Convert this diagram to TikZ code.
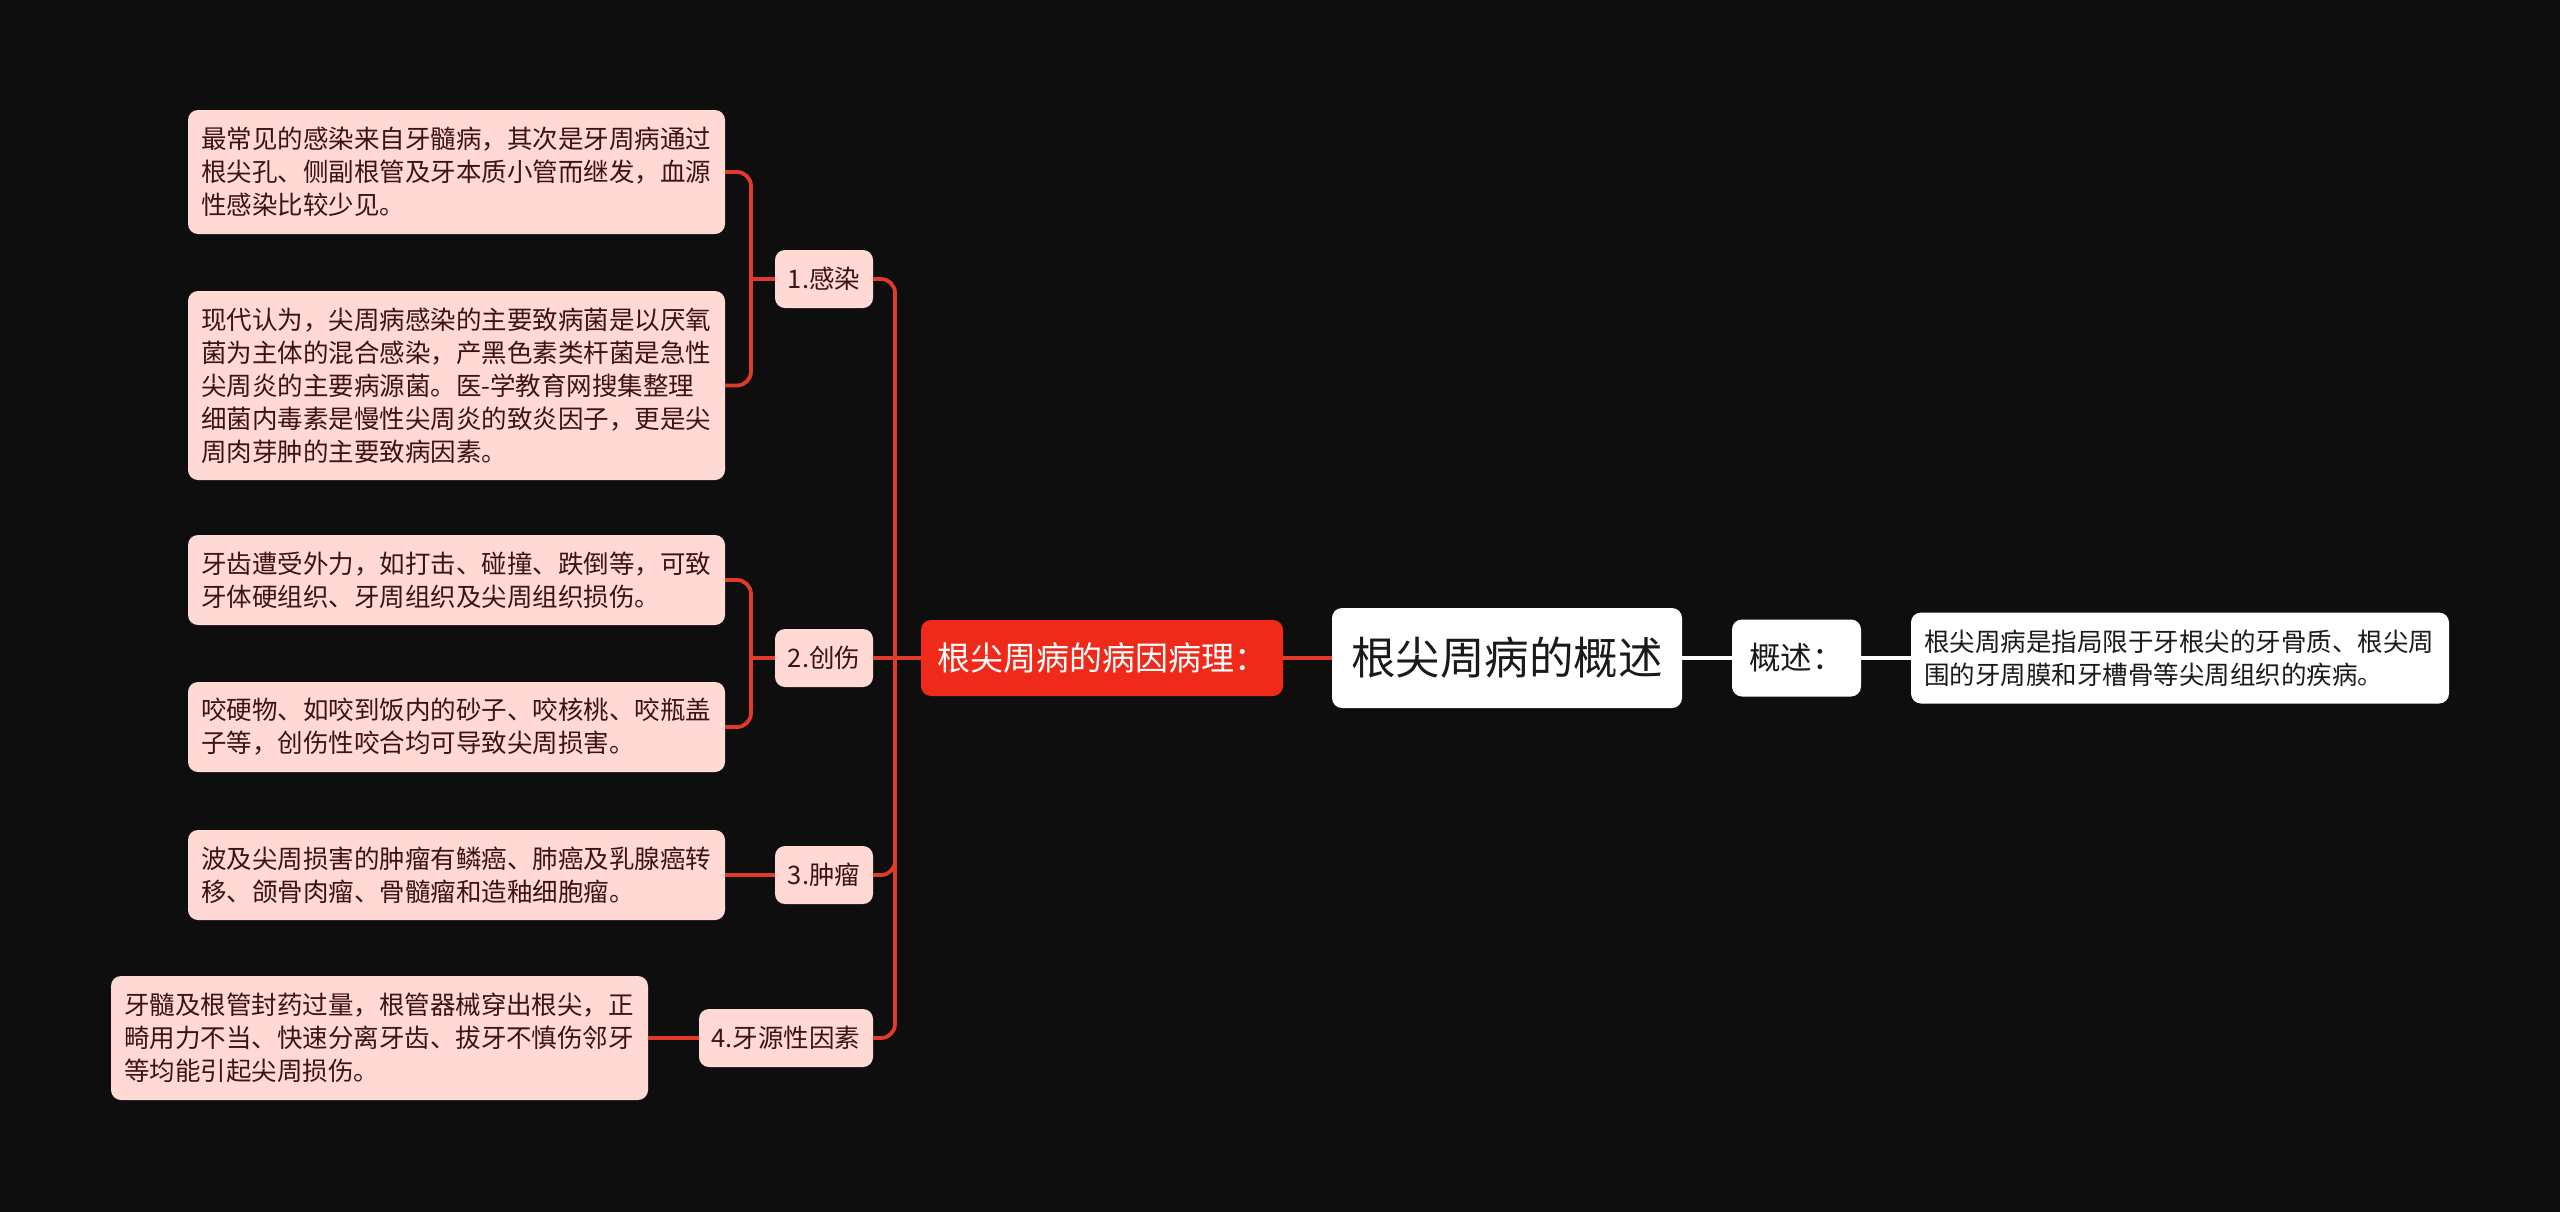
\documentclass[tikz,border=0pt]{standalone}
\usepackage{fontspec}
\setmainfont{Noto Sans CJK SC}
\definecolor{bg}{HTML}{0E0E0E}
\definecolor{leaffill}{HTML}{FFDAD5}
\definecolor{leaftext}{HTML}{3A1411}
\definecolor{mainred}{HTML}{EF2A1A}
\definecolor{linered}{HTML}{E03A2B}
\definecolor{roottext}{HTML}{1A1A1A}
\begin{document}
\begin{tikzpicture}[x=1pt,y=-1pt,
  leaf/.style={fill=leaffill, rounded corners=10pt, text=leaftext,
    font=\fontsize{25.5}{33}\selectfont, align=left, text width=511pt,
    inner xsep=13pt, inner ysep=0pt, anchor=center},
  child/.style={fill=leaffill, rounded corners=10pt, text=leaftext,
    font=\fontsize{25.5}{33}\selectfont, minimum height=58pt,
    inner xsep=0pt, inner ysep=0pt, anchor=center},
  redline/.style={draw=linered, line width=3.8pt, rounded corners=14pt},
  whiteline/.style={draw=white, line width=3.8pt}
]
\useasboundingbox (0,0) rectangle (2560,1211);
\fill[bg] (-10,-10) rectangle (2570,1221);

% leaves
\node[leaf, minimum height=124pt] (l1a) at (456.5,172)
  {最常见的感染来自牙髓病，其次是牙周病通过\\根尖孔、侧副根管及牙本质小管而继发，血源\\性感染比较少见。};
\node[leaf, minimum height=189pt] (l1b) at (456.5,385.5)
  {现代认为，尖周病感染的主要致病菌是以厌氧\\菌为主体的混合感染，产黑色素类杆菌是急性\\尖周炎的主要病源菌。医-学教育网搜集整理\\细菌内毒素是慢性尖周炎的致炎因子，更是尖\\周肉芽肿的主要致病因素。};
\node[leaf, minimum height=90pt] (l2a) at (456.5,580)
  {牙齿遭受外力，如打击、碰撞、跌倒等，可致\\牙体硬组织、牙周组织及尖周组织损伤。};
\node[leaf, minimum height=90pt] (l2b) at (456.5,727)
  {咬硬物、如咬到饭内的砂子、咬核桃、咬瓶盖\\子等，创伤性咬合均可导致尖周损害。};
\node[leaf, minimum height=90pt] (l3) at (456.5,875)
  {波及尖周损害的肿瘤有鳞癌、肺癌及乳腺癌转\\移、颌骨肉瘤、骨髓瘤和造釉细胞瘤。};
\node[leaf, minimum height=124pt] (l4) at (379.5,1038)
  {牙髓及根管封药过量，根管器械穿出根尖，正\\畸用力不当、快速分离牙齿、拔牙不慎伤邻牙\\等均能引起尖周损伤。};

% children
\node[child, minimum width=98pt] (c1) at (824,279) {1.感染};
\node[child, minimum width=98pt] (c2) at (824,658) {2.创伤};
\node[child, minimum width=98pt] (c3) at (824,875) {3.肿瘤};
\node[child, minimum width=174pt] (c4) at (786,1038) {4.牙源性因素};

% main nodes
\node[fill=mainred, rounded corners=10pt, text=white, minimum width=362pt,
  minimum height=76pt, inner sep=0pt, font=\fontsize{33}{38}\selectfont]
  (red) at (1102,658) {根尖周病的病因病理：};
\node[fill=white, rounded corners=10pt, text=roottext, minimum width=350pt,
  minimum height=100pt, inner sep=0pt, font=\fontsize{44.5}{50}\selectfont]
  (root) at (1507,658) {根尖周病的概述};
\node[fill=white, rounded corners=10pt, text=roottext, minimum width=129pt,
  minimum height=77pt, inner sep=0pt, font=\fontsize{31.5}{36}\selectfont]
  (ov) at (1796.5,658) {概述：};
\node[leaf, fill=white, text=roottext, text width=512pt, minimum height=91pt]
  (desc) at (2180,658) {根尖周病是指局限于牙根尖的牙骨质、根尖周\\围的牙周膜和牙槽骨等尖周组织的疾病。};

% connectors
\coordinate (sp) at (895,658);
\draw[redline] (red.west) -- (sp);
\draw[redline] (sp) |- (c1.east);
\draw[redline] (sp) -- (c2.east);
\draw[redline] (sp) |- (c3.east);
\draw[redline] (sp) |- (c4.east);

\coordinate (b1) at (751,279);
\draw[redline] (c1.west) -- (b1);
\draw[redline] (b1) |- (l1a.east);
\draw[redline] (b1) |- (l1b.east);

\coordinate (b2) at (751,658);
\draw[redline] (c2.west) -- (b2);
\draw[redline] (b2) |- (l2a.east);
\draw[redline] (b2) |- (l2b.east);

\draw[redline] (c3.west) -- (l3.east);
\draw[redline] (c4.west) -- (l4.east);

\draw[redline] (red.east) -- (root.west);
\draw[whiteline] (root.east) -- (ov.west);
\draw[whiteline] (ov.east) -- (desc.west);
\end{tikzpicture}
\end{document}
